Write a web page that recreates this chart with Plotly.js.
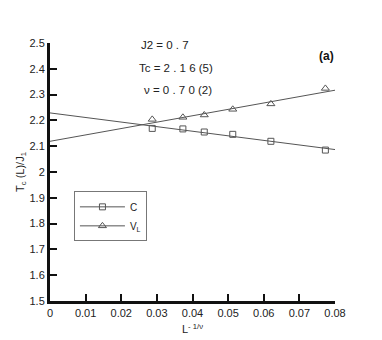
<!DOCTYPE html>
<html>
<head>
<meta charset="utf-8">
<script src="https://cdn.plot.ly/plotly-3.0.1.min.js"></script>
<style>html,body{margin:0;padding:0;background:#fff;}#chart{width:382px;height:340px;}</style>
</head>
<body>
<div id="chart"></div>
<script>
// Data
var xData = [0.0287, 0.0373, 0.0433, 0.0513, 0.0620, 0.0773];
var yC = [2.169, 2.167, 2.155, 2.146, 2.119, 2.085];
var yV = [2.204, 2.212, 2.221, 2.243, 2.264, 2.324];
var xFit = [0, 0.08];
var yFitC = [2.229, 2.087];
var yFitV = [2.119, 2.317];
var xTicks = [0, 0.01, 0.02, 0.03, 0.04, 0.05, 0.06, 0.07, 0.08];
var xTickText = ['0', '0.01', '0.02', '0.03', '0.04', '0.05', '0.06', '0.07', '0.08'];
var yTicks = [1.5, 1.6, 1.7, 1.8, 1.9, 2, 2.1, 2.2, 2.3, 2.4, 2.5];
var yTickText = ['1.5', '1.6', '1.7', '1.8', '1.9', '2', '2.1', '2.2', '2.3', '2.4', '2.5'];

var lineCol = '#555555';
var markCol = '#555555';

var traces = [
  {x: xFit, y: yFitC, mode: 'lines', line: {color: lineCol, width: 1}, showlegend: false, hoverinfo: 'skip'},
  {x: xFit, y: yFitV, mode: 'lines', line: {color: lineCol, width: 1}, showlegend: false, hoverinfo: 'skip'},
  {x: xData, y: yC, mode: 'markers', marker: {symbol: 'square-open', size: 6, color: markCol, line: {width: 1}}, showlegend: false},
  {x: xData, y: yV, mode: 'markers', marker: {symbol: 'triangle-up-open', size: 7, color: markCol, line: {width: 1}}, showlegend: false},
  // legend entries
  {x: [null], y: [null], name: 'C', mode: 'lines+markers', line: {color: lineCol, width: 1},
   marker: {symbol: 'square-open', size: 6, color: markCol, line: {width: 1}}},
  {x: [null], y: [null], name: 'V<sub>L</sub>', mode: 'lines+markers', line: {color: lineCol, width: 1},
   marker: {symbol: 'triangle-up-open', size: 7, color: markCol, line: {width: 1}}}
];

var fontN = 'Liberation Sans Narrow, Arial Narrow, Liberation Sans, sans-serif';
var fontSans = 'Liberation Sans, Arial, sans-serif';

var layout = {
  width: 382, height: 340,
  margin: {l: 50, r: 47, t: 43, b: 39},
  paper_bgcolor: '#ffffff', plot_bgcolor: '#ffffff',
  font: {family: fontN, color: '#222', size: 11},
  showlegend: true,
  legend: {x: 0.084, y: 0.425, xanchor: 'left', yanchor: 'top',
           bordercolor: '#777', borderwidth: 1, bgcolor: '#fff', itemwidth: 45,
           font: {family: fontSans, size: 10, color: '#222'}, tracegroupgap: 0},
  xaxis: {
    range: [0, 0.08], tickvals: xTicks, ticktext: xTickText,
    showline: true, linecolor: '#111', linewidth: 3, mirror: false,
    ticks: 'inside', ticklen: 7, tickwidth: 2, tickcolor: '#111',
    showgrid: false, zeroline: false,
    tickfont: {family: fontN, size: 11, color: '#222'},
    title: {text: 'L<sup>- 1/ν</sup>', font: {family: fontN, size: 11, color: '#222'}, standoff: 8}
  },
  yaxis: {
    range: [1.5, 2.5], tickvals: yTicks, ticktext: yTickText,
    showline: true, linecolor: '#111', linewidth: 3, mirror: false,
    ticks: 'inside', ticklen: 7, tickwidth: 2, tickcolor: '#111',
    showgrid: false, zeroline: false,
    tickfont: {family: fontN, size: 11, color: '#222'},
    title: {text: 'T<sub>c</sub> (L)/J<sub>1</sub>', font: {family: fontN, size: 11, color: '#222'}, standoff: 3}
  },
  annotations: [
    {xref: 'paper', yref: 'paper', x: (139-50)/285, y: (301-45)/258, xanchor: 'left', yanchor: 'middle',
     text: 'J2 = 0 . 7', showarrow: false, font: {family: fontSans, size: 11.5, color: '#222'}},
    {xref: 'paper', yref: 'paper', x: (137-50)/285, y: (301-68)/258, xanchor: 'left', yanchor: 'middle',
     text: 'Tc = 2 . 1 6 (5)', showarrow: false, font: {family: fontSans, size: 11.5, color: '#222'}},
    {xref: 'paper', yref: 'paper', x: (142-50)/285, y: (301-90)/258, xanchor: 'left', yanchor: 'middle',
     text: 'ν = 0 . 7 0 (2)', showarrow: false, font: {family: fontSans, size: 11.5, color: '#222'}},
    {xref: 'paper', yref: 'paper', x: (336-50)/285, y: (301-56)/258, xanchor: 'right', yanchor: 'middle',
     text: '<b>(a)</b>', showarrow: false, font: {family: fontSans, size: 12, color: '#111'}}
  ]
};

Plotly.newPlot('chart', traces, layout, {displayModeBar: false, staticPlot: true});
</script>
</body>
</html>
